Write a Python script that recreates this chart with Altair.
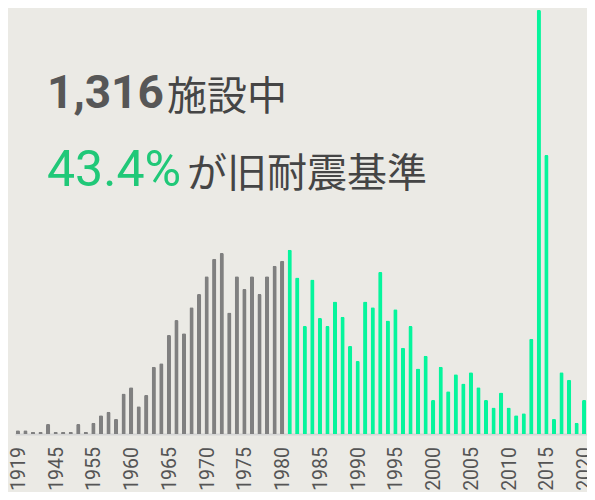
import altair as alt
import pandas as pd

# Categories (construction year)
years = ["1919", "1926", "1930", "1935", "1940",
         "1945", "1948", "1950", "1952", "1954", "1955",
         "1956", "1957", "1958", "1959", "1960", "1961", "1962", "1963", "1964",
         "1965", "1966", "1967", "1968", "1969", "1970", "1971", "1972", "1973",
         "1974", "1975", "1976", "1977", "1978", "1979", "1980",
         "1981", "1982", "1983", "1984", "1985", "1986", "1987", "1988", "1989",
         "1990", "1991", "1992", "1993", "1994", "1995", "1996", "1997", "1998",
         "1999", "2000", "2001", "2002", "2003", "2004", "2005", "2006", "2007",
         "2008", "2009", "2010", "2011", "2012", "2013", "2014", "2015", "2016",
         "2017", "2018", "2019", "2020"]

# Number of facilities
counts_old = [0.8, 0.8, 0.4, 0.4, 2.1,
              0.4, 0.4, 0.4, 2.1, 0.4, 2.4,
              4.0, 4.7, 3.2, 8.6, 9.9, 5.9, 8.3, 14.3, 15.0,
              21.0, 24.2, 21.4, 26.9, 29.7, 33.5, 37.2, 38.4, 25.8,
              33.5, 30.8, 33.5, 29.7, 33.5, 35.7, 36.8]
counts_new = [39.1, 33.2, 22.9, 32.8, 24.6, 22.9, 28.1, 24.9, 18.7,
              15.5, 28.1, 26.9, 34.4, 24.1, 26.5, 18.3, 22.9, 13.9,
              16.6, 7.2, 14.3, 9.1, 12.7, 10.7, 13.1, 9.9, 7.2,
              5.6, 8.8, 5.6, 4.0, 4.4, 20.2, 90.0, 59.2, 3.2,
              13.1, 11.5, 2.4, 7.2]

label_years = ["1919", "1945", "1955", "1960", "1965", "1970", "1975", "1980",
               "1985", "1990", "1995", "2000", "2005", "2010", "2015", "2020"]

era_names = ["旧耐震", "新耐震"]
bar_colors = ["#808080", "#05f59c"]

df = pd.DataFrame({
    "year": years,
    "count": counts_old + counts_new,
    "era": [era_names[0]] * len(counts_old) + [era_names[1]] * len(counts_new),
})

xenc = alt.X("year:N", sort=years, title=None,
             scale=alt.Scale(paddingInner=0.44, paddingOuter=0.1),
             axis=alt.Axis(labels=False, ticks=False, domainColor="#d6d6d6",
                           domainWidth=2, grid=False))

bars = alt.Chart(df).mark_bar(cornerRadiusEnd=1.5).encode(
    x=xenc,
    y=alt.Y("count:Q", axis=None, scale=alt.Scale(domain=[0, 90], nice=False)),
    color=alt.Color("era:N", scale=alt.Scale(domain=era_names, range=bar_colors), legend=None),
)

labels = alt.Chart(pd.DataFrame({"year": label_years})).mark_text(
    angle=270, align="right", baseline="middle", font="Roboto", fontSize=19.5,
    color="#555555", dy=1,
).encode(x=alt.X("year:N", sort=years), y=alt.value(437), text="year:N")

one = pd.DataFrame({"a": [0]})

def txt(s, x, y, size, color, weight="normal", font="Roboto"):
    return alt.Chart(one).mark_text(
        text=s, align="left", baseline="alphabetic", fontSize=size, font=font,
        fontWeight=weight, color=color,
    ).encode(x=alt.value(x), y=alt.value(y))

cjk = "Noto Sans CJK JP"
t1 = txt("1,316", 32, 98, 46, "#575757", weight="bold")
t2 = txt("施設中", 152, 100, 40, "#454545", font=cjk)
t3 = txt("43.4%", 32, 176, 50, "#20c878")
t4 = txt("が旧耐震基準", 172, 177, 40, "#454545", font=cjk)

chart = alt.layer(bars, labels, t1, t2, t3, t4).properties(
    width=572, height=424,
    autosize=alt.AutoSizeParams(type="none"),
    padding={"left": 7, "top": 2, "right": 0, "bottom": 58},
    background="#ebeae5",
).configure_view(stroke=None)

chart.save("out.html", embed_options={"renderer": "svg", "actions": False})
